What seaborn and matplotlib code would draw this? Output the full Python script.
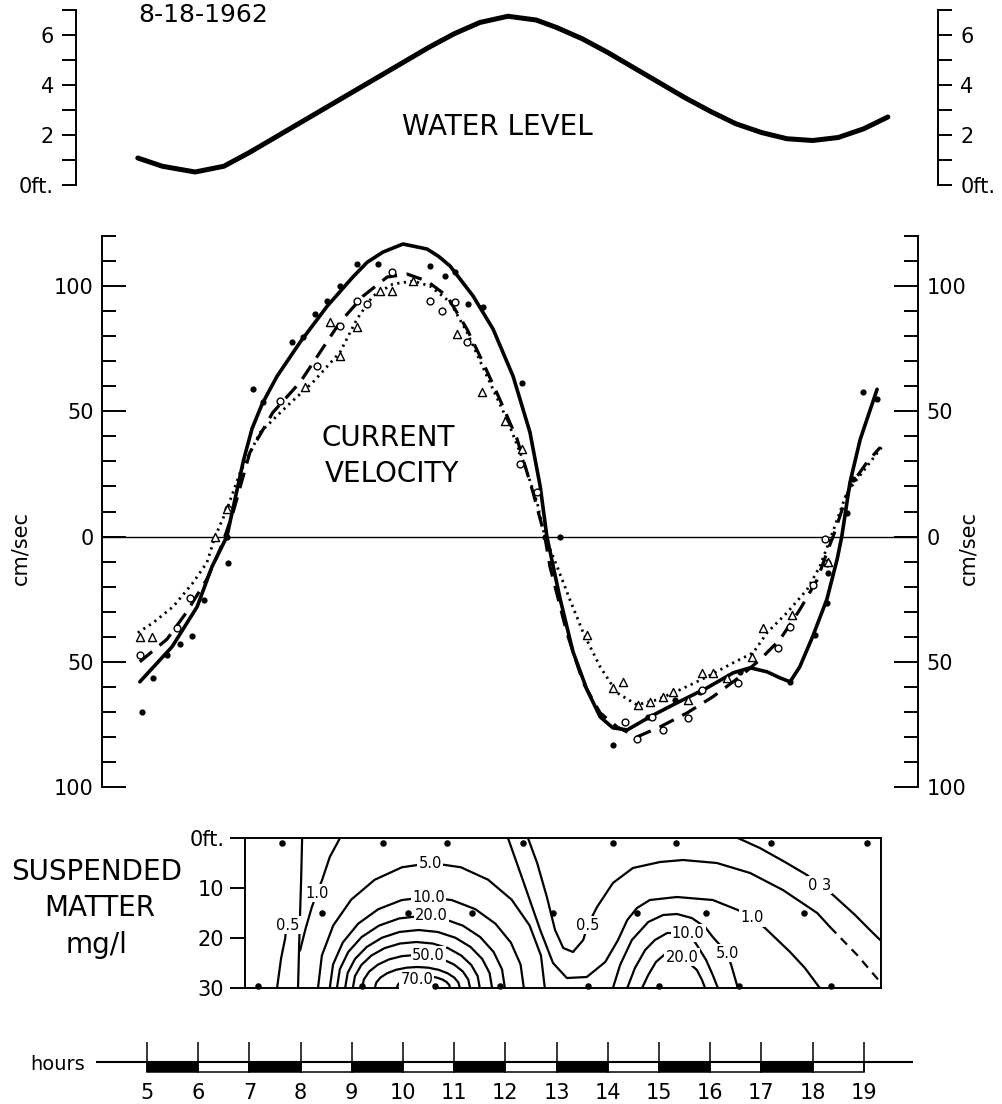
import matplotlib
matplotlib.use("Agg")
import matplotlib.pyplot as plt
import seaborn as sns

# ---------------- data ----------------
hour_marks = list(range(5, 20))
hour_blocks = list(range(5, 19))
hour_block_dark = [True, False] * 7

# water level, ft
tide_hour = [4.82, 5.3, 5.94, 6.5, 7.0, 7.5, 8.0, 8.5, 9.0, 9.5, 10.0, 10.5, 11.0, 11.5,
             12.05, 12.6, 13.0, 13.5, 14.0, 14.5, 15.0, 15.5, 16.0, 16.5, 17.0, 17.5,
             18.0, 18.5, 19.0, 19.47]
tide_ft = [1.08, 0.75, 0.52, 0.75, 1.3, 1.9, 2.5, 3.1, 3.7, 4.3, 4.9, 5.5, 6.05, 6.5,
           6.75, 6.6, 6.3, 5.85, 5.3, 4.7, 4.1, 3.5, 2.95, 2.45, 2.1, 1.85,
           1.78, 1.9, 2.25, 2.72]

# current velocity, cm/sec (flood positive, ebb negative) - fitted curves
solid_hour = [4.86, 5.49, 5.98, 6.27, 6.56, 6.72, 6.88, 7.05, 7.25, 7.54, 7.99, 8.52, 9.02,
              9.3, 9.61, 10.0, 10.47, 10.7, 10.92, 11.37, 11.76, 12.15, 12.48, 12.68, 12.81,
              13.07, 13.32, 13.59, 13.85, 14.1, 14.38, 14.82, 15.35, 15.94, 16.45, 16.78,
              17.11, 17.36, 17.56, 17.75, 18.0, 18.28, 18.48, 18.57, 18.73, 18.93, 19.26]
solid_vel = [-58, -44, -28, -12, 0, 15, 30, 43, 53, 64, 77.6, 92, 103.6,
             109.5, 113.6, 116.8, 114.8, 111.8, 108, 96, 82.8, 64, 41.6, 20, 0,
             -25, -46, -61, -72, -76.4, -77.2, -72, -66.4, -60.4, -54.4, -52.4,
             -54, -56.4, -58, -52, -40, -25, -9, 0, 21.6, 38.8, 58.8]

dashed_hour = [4.86, 5.39, 5.78, 6.17, 6.43, 6.52, 6.68, 7.01, 7.46, 7.99, 8.38, 8.77, 9.22,
               9.69, 10.08, 10.47, 10.86, 11.25, 11.56, 11.89, 12.23, 12.54, 12.77, 12.87,
               13.2, 13.52, 13.85, 14.18, 14.57, 15.02, 15.55, 16.05, 16.58, 16.97, 17.36,
               17.75, 18.09, 18.3, 18.4, 18.73, 19.06, 19.32]
dashed_vel = [-50, -41, -30, -17, -5, 0, 9.6, 33.6, 49.6, 61.6, 73.6, 85.6, 96,
              103.6, 104.8, 102, 96, 82.8, 69.6, 54.8, 38.8, 17.6, 0, -12,
              -38.4, -58.4, -70.4, -76, -80, -76, -70.4, -64, -56, -49.2, -41.2,
              -29.2, -17.2, -5.2, 0, 20, 29.6, 35.6]

dotted_hour = [4.82, 5.12, 5.51, 5.9, 6.17, 6.33, 6.56, 6.82, 7.21, 7.73, 8.24, 8.77, 9.1,
               9.41, 9.8, 10.2, 10.53, 10.92, 11.25, 11.64, 12.03, 12.34, 12.62, 12.77,
               13.01, 13.26, 13.52, 13.85, 14.18, 14.57, 14.96, 15.41, 15.94, 16.45, 16.84,
               17.11, 17.5, 17.89, 18.14, 18.34, 18.67, 19.06, 19.36]
dotted_vel = [-38.4, -34.4, -28, -18.4, -10.4, 0, 10.8, 25.6, 41.6, 52, 61.6, 73.6, 86.8,
              96, 100.8, 102, 100, 93.6, 81.6, 64, 46.8, 30.8, 13.6, 0,
              -12, -25.2, -38.4, -52, -62.4, -67.2, -65.2, -61.2, -56, -50.4, -46.4,
              -38.4, -30.4, -21.2, -12, -1.2, 17.6, 28, 36]

# current velocity observations
dot_hour = [4.9, 5.12, 5.39, 5.64, 5.88, 6.11, 6.58, 6.56, 7.07, 7.27, 7.83, 8.05, 8.28, 8.52,
            8.77, 9.1, 9.51, 10.53, 10.82, 11.02, 11.27, 11.56, 12.32, 12.77, 13.07, 14.1,
            14.79, 15.31, 15.8, 16.58, 17.56, 18.05, 18.28, 18.3, 18.67, 18.79, 18.98, 19.26]
dot_vel = [-70, -56.4, -47.2, -42.8, -39.6, -25.2, -10.4, 0, 58.8, 53.6, 77.6, 79.6, 88.8, 94,
           100, 108.8, 108.8, 108, 104, 105.6, 92.8, 91.6, 61.2, 0, 0, -83.2,
           -72, -65.2, -62, -54, -58, -39.2, -26.4, -14.4, 9.6, 22.8, 57.6, 54.8]

circle_hour = [4.86, 5.59, 5.84, 6.58, 7.6, 8.32, 8.77, 9.1, 9.3, 9.79, 10.53, 10.76, 11.02,
               11.25, 12.29, 12.62, 14.34, 14.57, 14.86, 15.08, 15.57, 15.84, 16.54, 17.32,
               17.56, 18.01, 18.28, 18.24]
circle_vel = [-47.2, -36.4, -24.4, 10.8, 54, 68, 84, 94, 92.8, 105.6, 94, 90, 93.6,
              77.6, 28.8, 17.6, -74, -80.8, -72, -77.2, -72.4, -61.2, -58.4, -44.4,
              -36, -19.2, -10.4, -0.8]

tri_hour = [4.86, 5.1, 6.33, 6.56, 8.09, 8.57, 8.77, 9.1, 9.55, 9.79, 10.2, 11.05, 11.54,
            11.99, 12.32, 13.59, 14.1, 14.3, 14.59, 14.82, 15.08, 15.27, 15.57, 15.84, 16.05,
            16.33, 16.82, 17.03, 17.6, 18.3]
tri_vel = [-40, -40, 0, 10.8, 59.6, 85.6, 72, 83.6, 98, 98, 102, 80.8, 57.6,
           46, 34.8, -39.2, -60.4, -58, -67.2, -66, -64, -62, -65.2, -54.4, -54.4,
           -56.4, -48, -36.4, -31.2, -10]

# suspended matter (mg/l): isolines as (hour, depth ft)
iso_05_left = [(8.03, 0), (8.01, 8.4), (7.99, 15), (7.97, 22), (7.95, 30)]
iso_05_foot = [(7.72, 17.4), (7.70, 20), (7.62, 24), (7.54, 30)]
iso_10_left = [(8.77, 0), (8.57, 3.8), (8.42, 8.4), (8.32, 11), (8.22, 13.8), (8.09, 18.4), (7.99, 22.5)]
iso_5 = [(8.34, 30), (8.415, 23.52), (8.637, 17.5), (8.989, 12.32), (9.447, 8.35), (9.981, 5.85),
         (10.555, 5), (11.129, 5.85), (11.663, 8.35), (12.121, 12.32), (12.473, 17.5),
         (12.695, 23.52), (12.77, 30)]
iso_10 = [(8.57, 30), (8.634, 25.29), (8.824, 20.9), (9.125, 17.13), (9.517, 14.24), (9.974, 12.42),
          (10.465, 11.8), (10.956, 12.42), (11.413, 14.24), (11.805, 17.13), (12.106, 20.9),
          (12.296, 25.29), (12.36, 30)]
iso_20 = [(8.71, 30), (8.766, 26.27), (8.93, 22.8), (9.191, 19.82), (9.53, 17.53), (9.925, 16.09),
          (10.35, 15.6), (10.775, 16.09), (11.17, 17.53), (11.509, 19.82), (11.77, 22.8),
          (11.934, 26.27), (11.99, 30)]
iso_30 = [(8.87, 30), (8.919, 27.0), (9.062, 24.2), (9.29, 21.8), (9.587, 19.95), (9.933, 18.79),
          (10.305, 18.4), (10.677, 18.79), (11.023, 19.95), (11.32, 21.8), (11.548, 24.2),
          (11.691, 27.0), (11.74, 30)]
iso_40 = [(9.02, 30), (9.062, 27.62), (9.186, 25.4), (9.383, 23.5), (9.64, 22.03), (9.939, 21.11),
          (10.26, 20.8), (10.581, 21.11), (10.88, 22.03), (11.137, 23.5), (11.334, 25.4),
          (11.458, 27.62), (11.5, 30)]
iso_50 = [(9.2, 30), (9.236, 28.29), (9.341, 26.7), (9.509, 25.33), (9.727, 24.28), (9.982, 23.62),
          (10.255, 23.4), (10.528, 23.62), (10.783, 24.28), (11.001, 25.33), (11.169, 26.7),
          (11.274, 28.29), (11.31, 30)]
iso_60 = [(9.45, 30), (9.478, 28.91), (9.561, 27.9), (9.693, 27.03), (9.865, 26.36), (10.065, 25.94),
          (10.28, 25.8), (10.495, 25.94), (10.695, 26.36), (10.867, 27.03), (10.999, 27.9),
          (11.082, 28.91), (11.11, 30)]
iso_70 = [(9.88, 30), (9.898, 29.38), (9.95, 28.8), (10.032, 28.3), (10.14, 27.92), (10.265, 27.68),
          (10.4, 27.6), (10.535, 27.68), (10.66, 27.92), (10.768, 28.3), (10.85, 28.8),
          (10.902, 29.38), (10.92, 30)]
iso_05_right = [(12.44, 0), (12.62, 5), (12.81, 11.8), (12.97, 18.4), (13.13, 22), (13.32, 22.8),
                (13.52, 20.4), (13.61, 17.4), (13.79, 13.8), (14.1, 9), (14.49, 6), (15.02, 4.8),
                (15.47, 4.4), (16.13, 5), (16.78, 7), (17.42, 10.4), (18.09, 15), (18.34, 17.8)]
iso_05_dashed = [(18.34, 17.8), (18.87, 23.4), (19.32, 28.8)]
iso_10_right = [(12.05, 0), (12.34, 8.4), (12.68, 18.4), (12.93, 25), (13.2, 28), (13.59, 27.8),
                (13.95, 24.8), (14.2, 20.4), (14.38, 16.4), (14.57, 14), (14.82, 12.4), (15.35, 11.8),
                (16.05, 12.4), (16.54, 14.4), (16.82, 16), (17.07, 18), (17.56, 22.8), (17.85, 26), (18.14, 30)]
iso_5_right = [(14.1, 30), (14.24, 25.4), (14.47, 20.4), (14.79, 16.8), (15.08, 15.4), (15.35, 15.2),
               (15.64, 16), (15.9, 17.8), (16.05, 19.8), (16.33, 23), (16.41, 25.4), (16.54, 30)]
iso_10b_right = [(14.38, 30), (14.53, 26), (14.73, 22.4), (14.92, 20.4), (15.16, 19), (15.57, 19),
                 (15.74, 21.4), (15.92, 24.4), (16.05, 27.4), (16.15, 30)]
iso_20_right = [(14.67, 30), (14.79, 27.4), (14.94, 24.8), (15.12, 23.2), (15.45, 23.8),
                (15.74, 26.4), (15.84, 28.4), (15.9, 30)]
iso_03 = [(16.54, 0), (16.97, 2), (17.46, 4.8), (17.89, 7.4), (18.14, 9.4), (18.4, 11.4),
          (18.83, 15.4), (19.12, 18.4), (19.32, 20.4)]
iso_labels = [(7.75, 17.4, "0.5"), (8.32, 11.0, "1.0"), (10.53, 5.0, "5.0"), (10.5, 11.8, "10.0"),
              (10.55, 15.6, "20.0"), (10.5, 23.4, "50.0"), (10.27, 28.4, "70.0"),
              (13.61, 17.4, "0.5"), (16.82, 16.0, "1.0"), (15.57, 19.0, "10.0"),
              (15.45, 23.8, "20.0"), (16.33, 23.0, "5.0"), (18.14, 9.4, "0 3")]

station_surface = [7.64, 9.61, 10.86, 12.34, 14.1, 15.33, 17.19, 19.06]
station_mid = [8.42, 10.1, 11.35, 12.93, 14.57, 15.92, 17.83]
station_bottom = [7.17, 9.2, 10.63, 11.89, 13.61, 15.0, 16.56, 18.36]

# ---------------- figure ----------------
sns.set_theme(style="white", rc={"axes.edgecolor": "black", "text.color": "black",
                                 "xtick.color": "black", "ytick.color": "black"})
plt.rcParams["font.family"] = ["DejaVu Sans"]

W, H = 1003, 1104
fig = plt.figure(figsize=(W / 100, H / 100), dpi=100)


def hour_at(px):
    return 5 + (px - 147) / 51.2


def panel(left, top, right, bottom):
    ax = fig.add_axes([left / W, 1 - bottom / H, (right - left) / W, (bottom - top) / H])
    ax.set_xlim(hour_at(left), hour_at(right))
    ax.patch.set_alpha(0)
    return ax


def line(ax, x, y, **kw):
    sns.lineplot(x=x, y=y, ax=ax, sort=False, estimator=None, color="black",
                 solid_joinstyle="round", **kw)


# water level
ax_w = panel(76, 10, 938, 185)
ax_w.set_ylim(0, 7)
line(ax_w, tide_hour, tide_ft, lw=3.6)
ax_w.spines[["top", "bottom"]].set_visible(False)
ax_w.spines[["left", "right"]].set_linewidth(1.4)
ax_w.set_xticks([])
ax_w.set_yticks([0, 2, 4, 6], ["0ft.", "2", "4", "6"])
ax_w.set_yticks([1, 3, 5, 7], minor=True)
ax_w.tick_params(axis="y", which="both", direction="out", left=True, right=True,
                 labelleft=True, labelright=True, length=10, width=1.4, labelsize=15, pad=6)
ax_w.set_xlabel("")
ax_w.set_ylabel("")
fig.text(497 / W, 1 - 127 / H, "WATER LEVEL", ha="center", va="center", fontsize=20)
fig.text(138 / W, 1 - 22 / H, "8-18-1962", ha="left", va="baseline", fontsize=18)

# current velocity
ax_v = panel(102, 236, 918, 787)
ax_v.set_ylim(-100, 120)
ax_v.axhline(0, color="black", lw=1.0)
line(ax_v, solid_hour, solid_vel, lw=2.6)
line(ax_v, dashed_hour, dashed_vel, lw=2.3, linestyle=(0, (5, 3)))
line(ax_v, dotted_hour, dotted_vel, lw=2.0, linestyle=(0, (0.8, 1.6)))
sns.scatterplot(x=dot_hour, y=dot_vel, ax=ax_v, color="black", s=20, linewidth=0, zorder=5)
sns.scatterplot(x=circle_hour, y=circle_vel, ax=ax_v, marker="o", s=24, facecolor="white",
                edgecolor="black", linewidth=1.0, zorder=5)
sns.scatterplot(x=tri_hour, y=tri_vel, ax=ax_v, marker="^", s=34, facecolor="white",
                edgecolor="black", linewidth=1.0, zorder=5)
ax_v.spines[["top", "bottom"]].set_visible(False)
ax_v.spines[["left", "right"]].set_linewidth(1.4)
ax_v.set_xticks([])
ax_v.set_yticks([-100, -50, 0, 50, 100], ["100", "50", "0", "50", "100"])
ax_v.set_yticks(list(range(-90, 121, 10)), minor=True)
ax_v.tick_params(axis="y", which="both", direction="in", left=True, right=True,
                 labelleft=True, labelright=True, width=1.4, labelsize=15, pad=6)
ax_v.tick_params(axis="y", which="major", length=17)
ax_v.tick_params(axis="y", which="minor", length=10)
ax_v.set_xlabel("")
ax_v.set_ylabel("")
fig.text(20 / W, 1 - 548 / H, "cm/sec", rotation=90, ha="center", va="center", fontsize=15)
fig.text(968 / W, 1 - 548 / H, "cm/sec", rotation=90, ha="center", va="center", fontsize=15)
fig.text(388 / W, 1 - 438 / H, "CURRENT", ha="center", va="center", fontsize=20)
fig.text(392 / W, 1 - 474 / H, "VELOCITY", ha="center", va="center", fontsize=20)

# suspended matter
ax_s = panel(245, 838, 881, 988)
ax_s.set_ylim(30, 0)
for iso in [iso_05_left, iso_05_foot, iso_10_left, iso_5, iso_10, iso_20, iso_30, iso_40,
            iso_50, iso_60, iso_70, iso_05_right, iso_10_right, iso_5_right, iso_10b_right,
            iso_20_right, iso_03]:
    line(ax_s, [p[0] for p in iso], [p[1] for p in iso], lw=1.6)
line(ax_s, [p[0] for p in iso_05_dashed], [p[1] for p in iso_05_dashed], lw=1.6,
     linestyle=(0, (4, 3)))
for h, d, txt in iso_labels:
    ax_s.text(h, d, txt, ha="center", va="center", fontsize=10.5, zorder=6,
              bbox=dict(boxstyle="square,pad=0.08", fc="white", ec="none"))
sns.scatterplot(x=station_surface, y=[1] * len(station_surface), ax=ax_s, color="black",
                s=22, linewidth=0, zorder=7)
sns.scatterplot(x=station_mid, y=[15] * len(station_mid), ax=ax_s, color="black",
                s=22, linewidth=0, zorder=7)
sns.scatterplot(x=station_bottom, y=[29.5] * len(station_bottom), ax=ax_s, color="black",
                s=22, linewidth=0, zorder=7, clip_on=False)
for sp in ax_s.spines.values():
    sp.set_linewidth(1.4)
ax_s.set_xticks([])
ax_s.set_yticks([0, 10, 20, 30], ["0ft.", "10", "20", "30"])
ax_s.tick_params(axis="y", direction="out", left=True, length=11, width=1.4,
                 labelsize=15, pad=4)
ax_s.set_xlabel("")
ax_s.set_ylabel("")
fig.text(97 / W, 1 - 872 / H, "SUSPENDED", ha="center", va="center", fontsize=20)
fig.text(100 / W, 1 - 908 / H, "MATTER", ha="center", va="center", fontsize=20)
fig.text(96 / W, 1 - 945 / H, "mg/l", ha="center", va="center", fontsize=20)

# hours bar
ax_h = panel(96, 1040, 913, 1075)
ax_h.set_ylim(-1.3, 2.2)
ax_h.axhline(0, color="black", lw=1.5)
ax_h.vlines(hour_marks, -1, 2, color="black", lw=1.1)
ax_h.bar(hour_blocks, 1, bottom=-1, width=1, align="edge",
         color=["black" if d else "white" for d in hour_block_dark],
         edgecolor="black", linewidth=1.1)
for sp in ax_h.spines.values():
    sp.set_visible(False)
ax_h.set_yticks([])
ax_h.set_xticks(hour_marks, [str(h) for h in hour_marks])
ax_h.tick_params(axis="x", length=0, labelsize=15, pad=6)
fig.text(58 / W, 1 - 1064 / H, "hours", ha="center", va="center", fontsize=14)

fig.savefig("out.png", dpi=100, facecolor="white")
